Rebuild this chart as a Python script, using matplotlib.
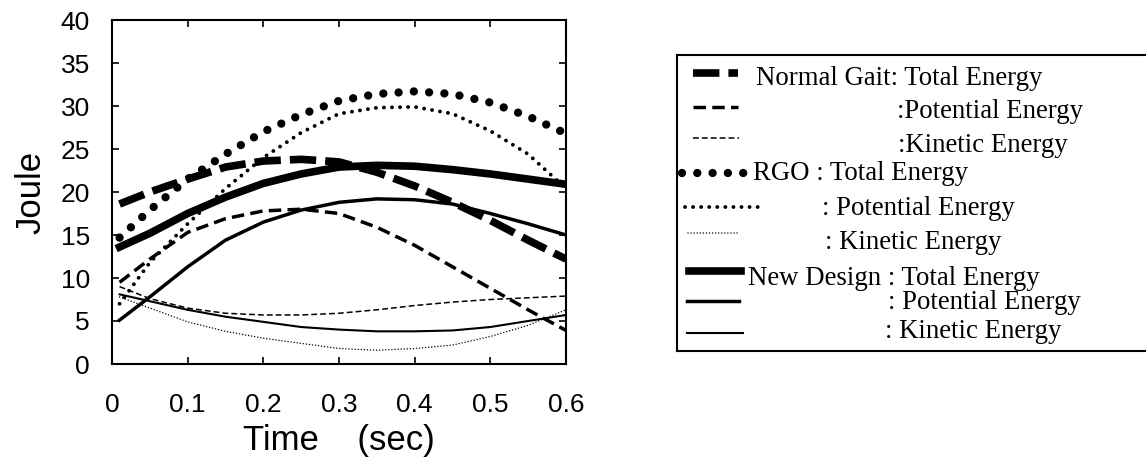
import matplotlib
matplotlib.use("Agg")
import matplotlib.pyplot as plt
from matplotlib.lines import Line2D

# Time axis (sec) and energy curves (Joule)
time_s = [0.01, 0.05, 0.10, 0.15, 0.20, 0.25, 0.30, 0.35, 0.40, 0.45, 0.50, 0.55, 0.60]

normal_total = [18.6, 20.0, 21.5, 22.9, 23.6, 23.8, 23.5, 22.3, 20.7, 18.8, 16.7, 14.4, 12.2]
normal_potential = [9.5, 12.2, 15.3, 16.9, 17.8, 18.0, 17.5, 15.9, 13.8, 11.3, 8.8, 6.3, 3.9]
normal_kinetic = [9.0, 7.6, 6.5, 5.9, 5.7, 5.7, 5.9, 6.3, 6.8, 7.2, 7.5, 7.7, 7.9]

rgo_total = [14.7, 17.9, 21.5, 24.4, 27.0, 29.0, 30.6, 31.4, 31.7, 31.4, 30.4, 28.8, 26.8]
rgo_potential = [7.0, 11.8, 16.3, 20.4, 24.0, 26.9, 29.1, 29.8, 29.9, 29.1, 27.1, 24.4, 20.4]
rgo_kinetic = [7.8, 6.5, 4.9, 3.8, 3.0, 2.4, 1.8, 1.6, 1.8, 2.2, 3.2, 4.5, 6.3]

new_total = [13.6, 15.2, 17.5, 19.4, 21.0, 22.1, 22.9, 23.1, 23.0, 22.6, 22.1, 21.5, 20.9]
new_potential = [5.1, 7.8, 11.3, 14.4, 16.5, 17.9, 18.8, 19.2, 19.1, 18.6, 17.5, 16.3, 15.0]
new_kinetic = [8.1, 7.3, 6.3, 5.5, 4.9, 4.3, 4.0, 3.8, 3.8, 3.9, 4.3, 5.0, 5.7]

labels = [
    "Normal Gait: Total Energy", ":Potential Energy", ":Kinetic Energy",
    "RGO : Total Energy", ": Potential Energy", ": Kinetic Energy",
    "New Design : Total Energy", ": Potential Energy", ": Kinetic Energy",
]
x_ticks = [0, 0.1, 0.2, 0.3, 0.4, 0.5, 0.6]
y_ticks = [0, 5, 10, 15, 20, 25, 30, 35, 40]

series = [normal_total, normal_potential, normal_kinetic,
          rgo_total, rgo_potential, rgo_kinetic,
          new_total, new_potential, new_kinetic]

# line styles (dash lengths in points, not scaled by width)
styles = [
    dict(lw=5.5, ls=(0, (19, 6.5)), dash_capstyle="butt"),
    dict(lw=2.5, ls=(0, (9, 4.5)), dash_capstyle="butt"),
    dict(lw=1.1, ls=(0, (4.2, 2.2)), dash_capstyle="butt"),
    dict(lw=6.0, ls=(0, (0.01, 11)), dash_capstyle="round"),
    dict(lw=2.8, ls=(0, (0.01, 5.8)), dash_capstyle="round"),
    dict(lw=1.1, ls=(0, (0.01, 2.2)), dash_capstyle="round"),
    dict(lw=5.5, ls="-"),
    dict(lw=2.5, ls="-"),
    dict(lw=1.5, ls="-"),
]

plt.rcParams["lines.scale_dashes"] = False
plt.rcParams["font.family"] = ["Liberation Sans", "DejaVu Sans"]

W, H = 1146, 461
fig = plt.figure(figsize=(W / 100, H / 100), dpi=100)

# main plot
ax = fig.add_axes([112 / W, 1 - 364 / H, 454 / W, 344 / H])
for vals, st in zip(series, styles):
    ax.plot(time_s, vals, color="black", **st)

ax.set_xlim(0, 0.6)
ax.set_ylim(0, 40)
ax.set_xticks(x_ticks)
ax.set_xticklabels([f"{t:g}" for t in x_ticks])
ax.set_yticks(y_ticks)
ax.tick_params(direction="in", length=5, width=1.2, top=True, right=True,
               labelsize=19)
ax.tick_params(axis="x", pad=21)
ax.tick_params(axis="y", pad=16)
for sp in ax.spines.values():
    sp.set_linewidth(1.5)
ax.set_xlabel("Time    (sec)", fontsize=25, labelpad=5)
ax.set_ylabel("Joule", fontsize=25, labelpad=9)

# hand-laid legend box (pixel coordinates inside the box)
lg = fig.add_axes([677 / W, 1 - 351 / H, 480 / W, 296 / H])
lg.set_xlim(677, 1157)
lg.set_ylim(351, 55)
lg.set_xticks([])
lg.set_yticks([])
lg.spines["right"].set_visible(False)
for sp in ["left", "top", "bottom"]:
    lg.spines[sp].set_linewidth(1.5)

# (line x0, line x1, line y, text x, text baseline y)
legend_layout = [
    (693, 738, 73, 756, 85),
    (693, 738, 107, 897, 118),
    (693, 739, 138, 898, 152),
    (682, 748, 173, 753, 180),
    (685, 760, 207, 822, 215),
    (688, 740, 233, 825, 249),
    (689, 741, 271, 748, 285),
    (687, 739, 301, 888, 309),
    (687, 743, 333, 885, 338),
]
for lab, st, (x0, x1, ly, tx, ty) in zip(labels, styles, legend_layout):
    lg.add_line(Line2D([x0, x1], [ly, ly], color="black", **st))
    lg.text(tx, ty, lab, fontsize=19.3, family=["Liberation Serif", "DejaVu Serif"],
            va="baseline", ha="left")

fig.savefig("out.png", dpi=100)
